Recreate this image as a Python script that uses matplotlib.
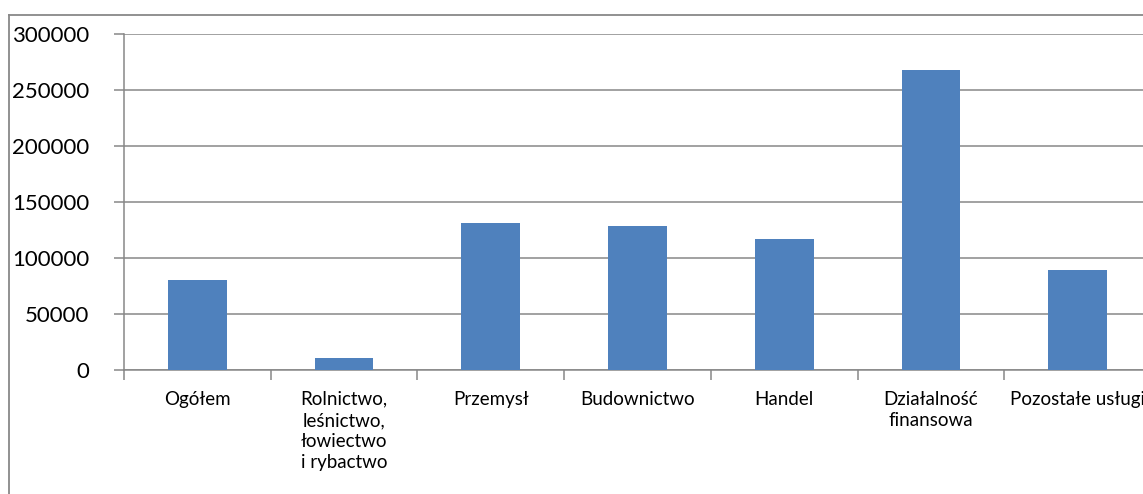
import matplotlib.pyplot as plt
from matplotlib.lines import Line2D
from matplotlib.ticker import FixedLocator

categories = ['Ogółem', 'Rolnictwo,\nleśnictwo,\nłowiectwo\ni rybactwo', 'Przemysł',
              'Budownictwo', 'Handel', 'Działalność\nfinansowa', 'Pozostałe usługi']
values = [80300, 10700, 131200, 128600, 117000, 267900, 89300]
yticks = [0, 50000, 100000, 150000, 200000, 250000, 300000]

plt.rcParams['font.family'] = ['Lato', 'DejaVu Sans']

def main():
    fig = plt.figure(figsize=(11.43, 4.94), dpi=100)
    ax = fig.add_axes([124 / 1143, 124 / 494, 1027 / 1143, 336 / 494])
    x = list(range(len(categories)))
    ax.bar(x, values, width=0.4, color='#4F81BD', zorder=3)
    ax.set_xlim(-0.5, len(categories) - 0.5)
    ax.set_ylim(0, 300000)
    ax.set_yticks(yticks)
    ax.set_yticklabels([str(v) for v in yticks], fontsize=16)
    ax.yaxis.grid(True, color='#878787', linewidth=1.1, zorder=0)
    ax.set_xticks(x)
    ax.set_xticklabels(categories, fontsize=13.5, linespacing=1.3, va='top')
    ax.xaxis.set_minor_locator(FixedLocator([i - 0.5 for i in range(len(categories) + 1)]))
    ax.tick_params(axis='x', which='major', length=0, pad=15)
    ax.tick_params(axis='x', which='minor', length=7, width=1.1, color='#878787', direction='out')
    ax.tick_params(axis='y', length=7, width=1.1, color='#878787', direction='out', pad=18)
    for s in ['top', 'right']:
        ax.spines[s].set_visible(False)
    for s in ['left', 'bottom']:
        ax.spines[s].set_color('#878787')
        ax.spines[s].set_linewidth(1.1)
    # chart area border (cut off at the right and bottom)
    bx = 9 / 1143
    by = 1 - 15 / 494
    fig.add_artist(Line2D([bx, bx], [0, by], transform=fig.transFigure, color='#888888', lw=1.3))
    fig.add_artist(Line2D([bx, 1.0], [by, by], transform=fig.transFigure, color='#888888', lw=1.3))
    fig.savefig('out.png', dpi=100)

if __name__ == '__main__':
    main()
